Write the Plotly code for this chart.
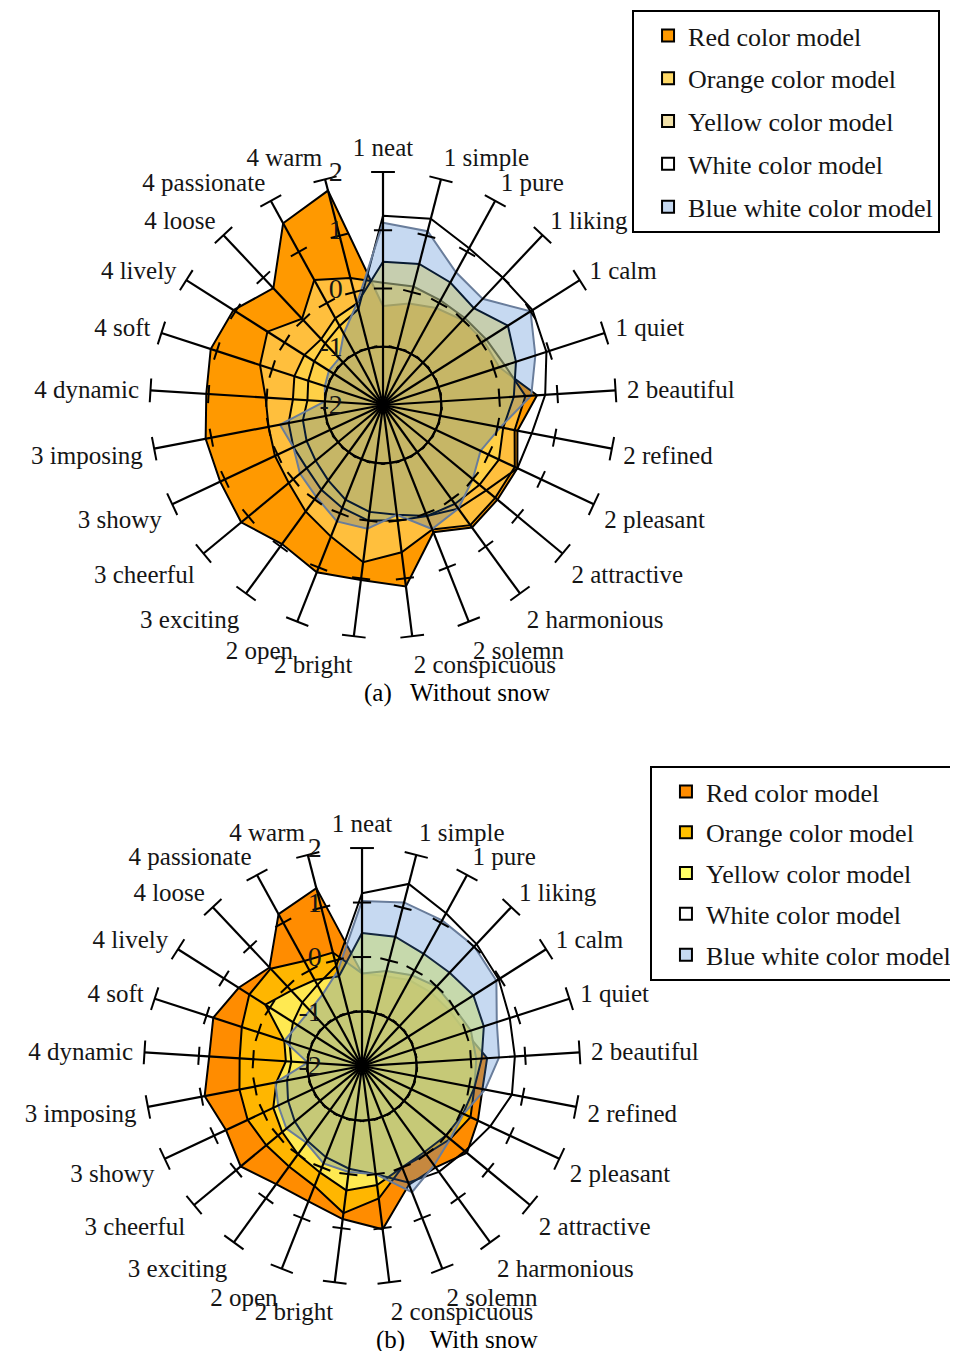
import plotly.graph_objects as go

# ---------------- data ----------------
categories = ["1 neat", "1 simple", "1 pure", "1 liking", "1 calm", "1 quiet",
              "2 beautiful", "2 refined", "2 pleasant", "2 attractive", "2 harmonious",
              "2 solemn", "2 conspicuous", "2 bright", "2 open", "3 exciting",
              "3 cheerful", "3 showy", "3 imposing", "4 dynamic", "4 soft",
              "4 lively", "4 loose", "4 passionate", "4 warm"]

series_names = ["Red color model", "Orange color model", "Yellow color model",
                "White color model", "Blue white color model"]

radial_ticks = [-2, -1, 0, 1, 2]
radial_tick_text = ["-2", "-1", "0", "1", "2"]
spoke_tick_levels = [-1, 0, 1]
ring_level = -1

# (a) Without snow
a_red    = [-0.30, -0.20, -0.10, 0.00, 0.05, 0.10, 0.65, 0.35, 0.55, 0.55, 0.60, 0.35,
            1.14, 1.03, 1.09, 0.95, 1.16, 1.09, 1.10, 1.04, 1.11, 1.04, 0.75, 1.56, 1.80]
a_orange = [0.10, 0.10, 0.05, 0.05, 0.10, 0.20, 0.45, 0.30, 0.50, 0.50, 0.55, 0.30,
            0.55, 0.72, 0.43, 0.26, 0.10, 0.05, 0.00, 0.02, 0.22, 0.35, 0.03, 0.45, 0.25]
a_yellow = [0.46, 0.50, 0.40, 0.28, 0.54, 0.40, 0.25, 0.10, 0.20, 0.15, 0.10, 0.05,
            0.00, 0.00, -0.10, -0.20, -0.30, -0.30, -0.35, -0.45, -0.40, -0.40, -0.45, -0.30, -0.20]
a_white  = [1.25, 1.30, 1.07, 1.00, 1.04, 0.95, 0.79, 0.60, 0.55, 0.30, 0.20, 0.05,
            -0.10, -0.15, -0.25, -0.40, -0.50, -0.55, -0.60, -0.70, -0.65, -0.60, -0.55, -0.45, -0.30]
a_blue   = [1.13, 1.08, 0.60, 0.50, 1.00, 0.75, 0.55, 0.05, -0.15, 0.00, 0.20, 0.29,
            -0.10, 0.14, 0.15, -0.05, -0.15, -0.30, -0.20, -1.00, -0.95, -0.90, -0.90, -0.60, -0.20]

# (b) With snow
b_red    = [-0.30, -0.30, -0.20, -0.15, -0.10, 0.00, 0.30, 0.25, 0.35, 0.50, 0.30, 0.34,
            1.02, 0.83, 0.67, 0.68, 0.89, 0.76, 0.94, 0.81, 0.87, 0.68, 0.48, 1.18, 1.37]
b_orange = [-0.30, -0.20, -0.10, 0.00, 0.00, 0.10, 0.10, 0.10, 0.20, 0.10, 0.00, 0.00,
            0.45, 0.72, 0.37, 0.28, 0.28, 0.32, 0.29, 0.25, 0.32, 0.45, 0.45, 0.20, 0.15]
b_yellow = [0.44, 0.45, 0.35, 0.35, 0.42, 0.35, 0.20, 0.10, 0.05, 0.00, -0.05, 0.00,
            0.20, 0.30, 0.10, 0.00, -0.10, -0.20, -0.40, -0.60, -0.50, 0.10, -0.10, -0.20, -0.30]
b_white  = [1.17, 1.45, 1.20, 1.07, 0.97, 0.85, 0.81, 0.80, 0.60, 0.45, 0.40, 0.30,
            0.00, -0.10, -0.20, -0.30, -0.40, -0.50, -0.60, -0.70, -0.60, -0.50, -0.40, -0.30, -0.10]
b_blue   = [1.03, 1.10, 1.05, 1.01, 0.92, 0.60, 0.52, 0.30, 0.06, 0.10, 0.25, 0.49,
            0.00, -0.04, -0.08, -0.26, -0.20, -0.30, -0.38, -1.00, -0.50, -0.60, -0.60, -0.50, -0.20]

# ---------------- styles ----------------
a_fill = ["rgba(255,153,0,1)", "rgba(255,217,102,0.6)", "rgba(255,225,80,0.5)",
          "rgba(255,255,255,0)", "rgba(27,103,199,0.25)"]
a_swatch = ["#FF9900", "#FFD966", "#F2E2AA", "#FFFFFF", "#C6D9F1"]
b_fill = ["rgba(255,140,0,1)", "rgba(255,192,0,0.8)", "rgba(255,255,115,0.7)",
          "rgba(255,255,255,0)", "rgba(65,128,208,0.3)"]
b_swatch = ["#FF8C00", "#FFC000", "#FFFF66", "#FFFFFF", "#C6D9F1"]
line_cols = ["black", "black", "black", "black", "rgb(105,125,155)"]

SERIF = "Liberation Serif"
TXT = "#151515"

fig = go.Figure()


def closed(vals):
    return list(vals) + [vals[0]]


def add_chart(subplot, legend, data, fills, swatches):
    n = len(categories)
    cat_closed = closed(categories)
    for name, vals, fc, lc in zip(series_names, data, fills, line_cols):
        fig.add_trace(go.Scatterpolar(
            r=closed(vals), theta=cat_closed, subplot=subplot,
            fill="toself", fillcolor=fc, mode="lines",
            line=dict(color=lc, width=2), showlegend=False, name=name))
    # ring at -1
    fig.add_trace(go.Scatterpolar(
        r=[ring_level] * (n + 1), theta=cat_closed, subplot=subplot, mode="lines",
        line=dict(color="black", width=2, shape="spline"), showlegend=False,
        hoverinfo="skip"))
    # spokes
    sr, st = [], []
    for c in categories:
        sr += [radial_ticks[0], radial_ticks[-1], None]
        st += [c, c, None]
    fig.add_trace(go.Scatterpolar(r=sr, theta=st, subplot=subplot, mode="lines",
                                  line=dict(color="black", width=2.2),
                                  showlegend=False, hoverinfo="skip"))
    # tick marks on spokes
    tr, tt, ta = [], [], []
    for i, c in enumerate(categories):
        for lv in spoke_tick_levels:
            tr.append(lv); tt.append(c); ta.append(i * 360.0 / n)
    fig.add_trace(go.Scatterpolar(r=tr, theta=tt, subplot=subplot, mode="markers",
                                  marker=dict(symbol="line-ew", size=13, angle=ta,
                                              line=dict(color="black", width=2)),
                                  showlegend=False, hoverinfo="skip"))
    # end caps
    fig.add_trace(go.Scatterpolar(r=[radial_ticks[-1]] * n, theta=categories, subplot=subplot,
                                  mode="markers",
                                  marker=dict(symbol="line-ew", size=17,
                                              angle=[i * 360.0 / n for i in range(n)],
                                              line=dict(color="black", width=2)),
                                  showlegend=False, hoverinfo="skip"))
    # legend entries
    for k, (name, sw) in enumerate(zip(series_names, swatches)):
        fig.add_trace(go.Scatterpolar(r=[None], theta=[None], subplot=subplot, mode="markers",
                                      name=name, legend=legend, legendgroup=f"{legend}{k}",
                                      marker=dict(symbol="square", size=13, color=sw,
                                                  line=dict(color="black", width=2.5))))


add_chart("polar", "legend", [a_red, a_orange, a_yellow, a_white, a_blue], a_fill, a_swatch)
add_chart("polar2", "legend2", [b_red, b_orange, b_yellow, b_white, b_blue], b_fill, b_swatch)


def polar_layout(xd, yd):
    return dict(
        domain=dict(x=xd, y=yd),
        bgcolor="rgba(0,0,0,0)",
        angularaxis=dict(type="category", categoryorder="array", categoryarray=categories,
                         direction="clockwise", rotation=90, showgrid=False, showline=False,
                         ticks="outside", ticklen=6, tickcolor="rgba(0,0,0,0)",
                         tickfont=dict(family=SERIF, size=25, color=TXT)),
        radialaxis=dict(range=[radial_ticks[0], radial_ticks[-1]], tickvals=radial_ticks,
                        ticktext=radial_tick_text, showgrid=False, showline=False,
                        angle=90, side="counterclockwise", ticks="outside", ticklen=30,
                        tickcolor="rgba(0,0,0,0)", tickangle=90,
                        tickfont=dict(family=SERIF, size=28, color=TXT)),
    )


legend_common = dict(bgcolor="white", bordercolor="black", borderwidth=2,
                      font=dict(family=SERIF, size=26, color=TXT),
                      xanchor="left", yanchor="top", indentation=14,
                      itemsizing="constant")

fig.update_layout(
    width=958, height=1351, paper_bgcolor="white", plot_bgcolor="white",
    margin=dict(l=0, r=0, t=0, b=0),
    polar=polar_layout([0.1482, 0.6347], [0.5337, 0.8786]),
    polar2=polar_layout([0.1420, 0.5971], [0.0555, 0.3782]),
    legend=dict(x=0.6514, y=0.9985, tracegroupgap=6, **legend_common),
    legend2=dict(x=0.6701, y=0.4389, tracegroupgap=4, **legend_common),
    annotations=[
        dict(text="(a)   Without snow", x=0.4687, y=0.493, xref="paper", yref="paper",
             xanchor="center", yanchor="middle", showarrow=False,
             font=dict(family=SERIF, size=25, color="black")),
        dict(text="(b)    With snow", x=0.4687, y=0.0141, xref="paper", yref="paper",
             xanchor="center", yanchor="middle", showarrow=False,
             font=dict(family=SERIF, size=25, color="black")),
    ],
)

fig.write_html("out.html")
